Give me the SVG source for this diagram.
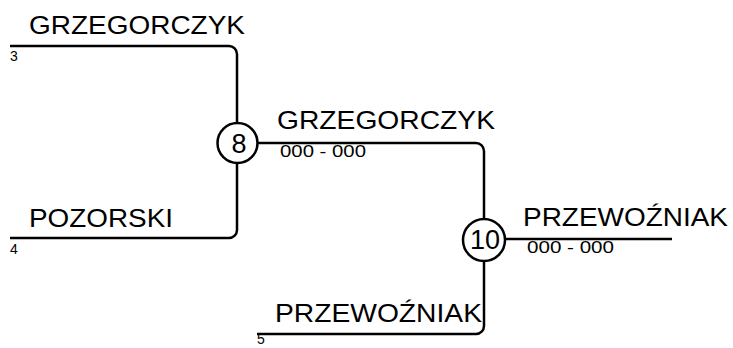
<svg xmlns="http://www.w3.org/2000/svg" width="733" height="348" viewBox="0 0 733 348">
<style>
.ln{fill:none;stroke:#000;stroke-width:2.5}
.c{fill:#fff;stroke:#000;stroke-width:2.5}
.big{font-family:"Liberation Sans",Arial,sans-serif;font-size:25px;fill:#000}
.sm{font-family:"Liberation Sans",Arial,sans-serif;font-size:17px;fill:#000}
.seed{font-family:"Liberation Sans",Arial,sans-serif;font-size:14px;fill:#000}
.num{font-family:"Liberation Sans",Arial,sans-serif;font-size:27px;fill:#000;text-anchor:middle}
</style>
<rect width="733" height="348" fill="#fff"/>
<g id="connectors">
<path class="ln" d="M10,46 H229 A8,8 0 0 1 237,54 V123"/>
<path class="ln" d="M10,238 H229 A8,8 0 0 0 237,230 V163"/>
<path class="ln" d="M258,143 H476 A8,8 0 0 1 484,151 V219"/>
<path class="ln" d="M257,334 H476 A8,8 0 0 0 484,326 V261"/>
<path class="ln" d="M505,239 H672"/>
</g>
<g id="entry-3">
<text class="big" x="29" y="34" textLength="216" lengthAdjust="spacingAndGlyphs">GRZEGORCZYK</text>
<text class="seed" x="10" y="61">3</text>
</g>
<g id="entry-4">
<text class="big" x="29" y="227" textLength="144" lengthAdjust="spacingAndGlyphs">POZORSKI</text>
<text class="seed" x="10" y="254">4</text>
</g>
<g id="entry-5">
<text class="big" x="275" y="322" textLength="207" lengthAdjust="spacingAndGlyphs">PRZEWOŹNIAK</text>
<text class="seed" x="257" y="344">5</text>
</g>
<g id="node-8">
<circle class="c" cx="237.5" cy="143" r="20"/>
<text class="num" x="239" y="153">8</text>
<text class="big" x="277" y="129" textLength="218" lengthAdjust="spacingAndGlyphs">GRZEGORCZYK</text>
<text class="sm" x="280" y="157" textLength="86" lengthAdjust="spacingAndGlyphs">000 - 000</text>
</g>
<g id="node-10">
<circle class="c" cx="484" cy="240" r="21"/>
<text class="num" x="485" y="249">10</text>
<text class="big" x="523" y="226" textLength="205" lengthAdjust="spacingAndGlyphs">PRZEWOŹNIAK</text>
<text class="sm" x="527" y="253" textLength="87" lengthAdjust="spacingAndGlyphs">000 - 000</text>
</g>
</svg>
